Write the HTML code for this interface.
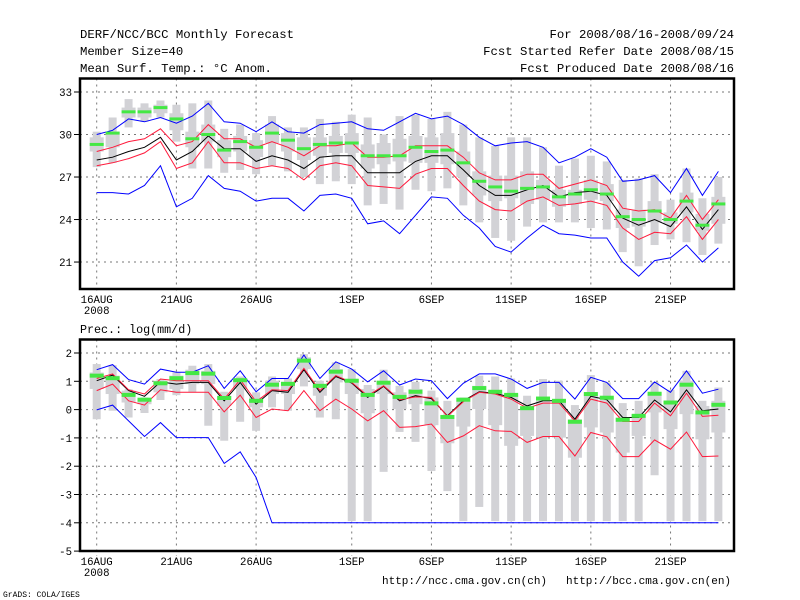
<!DOCTYPE html>
<html><head><meta charset="utf-8">
<style>
html,body{margin:0;padding:0;background:#fff;}
svg{display:block;}
text{font-family:"Liberation Mono",monospace;fill:#000;}
</style></head>
<body>
<svg id="chart" width="800" height="600" viewBox="0 0 800 600" xmlns="http://www.w3.org/2000/svg">
<rect width="800" height="600" fill="#fff"/>
<text x="80" y="38" font-size="12.3">DERF/NCC/BCC Monthly Forecast</text>
<text x="80" y="55" font-size="12.3">Member Size=40</text>
<text x="80" y="72" font-size="12.3">Mean Surf. Temp.: °C Anom.</text>
<text x="734" y="38" font-size="12.3" text-anchor="end">For 2008/08/16-2008/09/24</text>
<text x="734" y="55" font-size="12.3" text-anchor="end">Fcst Started Refer Date 2008/08/15</text>
<text x="734" y="72" font-size="12.3" text-anchor="end">Fcst Produced Date 2008/08/16</text>
<text x="80" y="333" font-size="11.7">Prec.: log(mm/d)</text>
<text x="382" y="584" font-size="11">http://ncc.cma.gov.cn(ch)</text>
<text x="566" y="584" font-size="11">http://bcc.cma.gov.cn(en)</text>
<text x="3" y="597" font-size="8">GrADS: COLA/IGES</text>
<g id="g"></g>
</svg>
<script>
// Temperature panel data (40 days, Aug16..Sep24)
const tBlueHi=[30.0,30.3,31.1,30.9,31.2,30.8,31.3,32.2,30.9,30.8,30.2,30.9,30.2,30.1,30.7,30.8,30.9,30.4,30.3,30.9,31.5,31.1,31.3,30.7,29.8,29.2,29.4,29.5,29.1,28.0,28.4,29.0,28.4,26.7,26.8,27.1,25.9,27.6,25.7,27.4];
const tRedHi=[28.8,29.1,29.5,29.7,30.4,29.2,29.5,30.7,29.7,29.7,29.1,29.5,29.1,28.5,29.2,29.2,29.4,28.4,28.4,28.5,29.2,29.2,29.2,28.4,27.3,26.8,26.8,27.2,27.2,26.2,26.5,26.8,26.4,24.8,24.6,24.7,24.1,25.7,24.0,25.4];
const tMean=[28.2,28.4,28.8,29.1,29.8,28.2,28.8,29.9,29.0,29.0,28.1,28.5,28.2,27.6,28.4,28.5,28.5,27.3,27.3,27.3,28.1,28.5,28.5,27.5,26.4,25.7,25.7,26.1,26.4,25.6,25.9,26.0,25.7,24.1,23.6,24.0,23.5,24.9,23.3,24.7];
const tRedLo=[27.8,28.0,28.3,28.7,29.5,27.6,28.0,29.5,28.0,28.0,27.6,27.8,27.6,26.8,27.8,28.0,27.8,26.4,26.3,26.2,27.2,27.6,27.6,26.4,25.3,24.7,24.6,25.3,25.6,25.0,25.1,25.3,25.0,23.4,22.6,23.1,23.0,24.2,22.6,24.0];
const tBlueLo=[25.9,25.9,25.8,26.4,27.8,24.9,25.5,27.1,26.2,26.0,25.3,25.5,25.5,24.6,25.7,25.8,25.5,23.7,23.9,23.0,24.3,25.6,25.5,24.3,23.4,22.1,21.7,22.7,23.6,23.0,22.9,22.7,22.7,21.0,20.0,21.1,21.3,22.2,21.0,22.0];
const tGreen=[29.3,30.1,31.6,31.6,31.9,31.1,29.7,30.0,28.9,29.5,29.1,30.1,29.6,29.0,29.3,29.4,29.4,28.5,28.5,28.5,29.1,28.8,28.9,28.0,26.7,26.3,26.0,26.2,26.3,25.6,25.8,26.1,25.8,24.2,24.0,24.6,24.0,25.3,23.6,25.1];
const tMax=[30.2,31.2,32.5,32.2,32.4,32.1,32.2,32.4,30.4,30.7,30.1,31.3,30.5,30.5,31.1,30.9,31.4,31.2,30.0,31.3,31.4,31.1,31.6,30.7,29.8,29.2,29.8,29.8,29.1,27.8,28.3,28.5,28.1,26.8,26.9,27.2,25.4,27.6,25.5,27.0];
const tMin=[27.7,28.0,30.5,30.9,31.2,29.5,27.6,27.6,27.3,27.5,27.2,27.8,27.4,27.0,26.5,26.7,26.5,25.0,25.1,24.7,26.1,26.0,26.2,25.0,23.8,22.7,22.5,23.5,23.8,23.8,23.8,23.4,23.3,21.7,20.7,22.2,22.6,22.4,21.5,22.3];
const tQ3=[29.8,30.2,31.9,31.9,32.1,31.5,30.2,30.7,29.6,29.9,29.6,30.7,30.1,29.8,29.8,29.9,30.1,29.3,29.4,29.7,29.9,29.8,30.1,28.8,27.4,27.1,27.1,27.4,26.8,26.1,26.1,26.8,26.5,24.7,24.7,25.3,24.5,25.9,24.4,25.6];
const tQ1=[28.8,29.1,31.2,31.2,31.5,30.3,29.1,29.5,28.4,28.8,28.4,29.4,28.8,28.2,28.5,28.7,28.7,27.6,27.9,28.1,28.0,28.0,27.9,27.0,25.7,25.3,25.5,25.1,25.4,24.9,25.1,25.4,25.3,23.4,23.5,23.8,23.7,24.5,23.2,23.7];
// Precipitation panel data
const pBlueHi=[1.41,1.59,1.06,0.90,1.43,1.32,1.32,1.55,0.75,1.37,0.63,1.10,1.10,1.93,1.10,1.69,1.43,0.98,1.37,0.87,1.08,1.02,0.39,0.93,1.26,1.26,1.08,0.75,0.96,0.96,0.37,1.14,0.96,0.39,0.39,0.98,0.61,1.37,0.58,0.72];
const pRedHi=[1.10,1.26,0.70,0.55,1.08,1.02,1.02,1.02,0.37,1.06,0.28,0.70,0.67,1.46,0.67,1.20,0.96,0.49,0.84,0.35,0.45,0.43,-0.24,0.28,0.61,0.55,0.37,0.05,0.23,0.23,-0.40,0.37,0.23,-0.42,-0.42,0.23,-0.22,0.58,-0.24,-0.20];
const pMean=[1.02,1.22,0.67,0.47,0.98,0.90,0.96,0.96,0.31,0.96,0.19,0.67,0.61,1.41,0.61,1.17,0.94,0.43,0.82,0.31,0.49,0.39,-0.22,0.31,0.63,0.58,0.43,0.13,0.31,0.31,-0.34,0.47,0.35,-0.28,-0.28,0.34,-0.08,0.70,-0.04,0.02];
const pRedLo=[0.67,0.90,0.31,0.16,0.70,0.61,0.61,0.61,-0.08,0.51,-0.28,0.02,-0.04,0.67,-0.04,0.37,0.02,-0.40,-0.04,-0.63,-0.60,-0.51,-1.16,-0.93,-0.57,-0.75,-0.77,-1.16,-0.95,-0.95,-1.64,-0.81,-0.96,-1.66,-1.66,-1.07,-1.40,-0.79,-1.66,-1.64];
const pBlueLo=[-0.01,0.16,-0.40,-0.95,-0.46,-0.99,-0.99,-0.99,-1.9,-1.49,-2.4,-4,-4,-4,-4,-4,-4,-4,-4,-4,-4,-4,-4,-4,-4,-4,-4,-4,-4,-4,-4,-4,-4,-4,-4,-4,-4,-4,-4,-4];
const pGreen=[1.20,1.11,0.52,0.35,0.93,1.11,1.29,1.27,0.41,1.04,0.31,0.88,0.91,1.73,0.84,1.34,1.02,0.52,0.95,0.45,0.63,0.22,-0.26,0.35,0.76,0.63,0.52,0.05,0.39,0.31,-0.43,0.55,0.42,-0.36,-0.22,0.56,0.25,0.88,-0.10,0.17];
const pMax=[1.61,1.57,0.72,0.43,1.08,1.32,1.55,1.61,0.63,1.17,0.61,1.17,1.10,1.96,1.02,1.67,1.43,0.87,1.41,0.84,0.98,0.67,0.31,0.43,1.20,1.17,1.10,0.49,1.08,1.02,0.16,1.22,0.96,0.23,0.31,0.98,0.70,1.37,0.31,0.78];
const pMin=[-0.34,-0.04,-0.28,-0.12,0.34,0.51,0.61,-0.57,-1.10,-0.43,-0.75,0.08,-0.04,0.82,-0.28,-0.34,-3.94,-3.94,-2.2,-0.79,-1.14,-2.17,-2.88,-3.94,-3.44,-3.94,-3.94,-3.94,-3.94,-3.94,-3.94,-3.94,-3.94,-3.94,-3.94,-2.32,-3.94,-3.94,-3.94,-3.94];
const pQ3=[1.31,1.20,0.67,0.39,1.02,1.20,1.41,1.37,0.49,1.10,0.43,1.02,0.98,1.85,0.84,1.43,1.08,0.73,1.02,0.61,0.73,0.43,-0.20,0.31,0.84,0.61,0.55,0.08,0.31,0.31,-0.34,0.61,0.43,-0.28,-0.16,0.61,0.31,1.02,0.13,0.31];
const pQ1=[0.73,0.55,0.25,0.19,0.61,0.73,0.90,0.90,0.13,0.73,0.08,0.55,0.55,1.43,0.49,0.96,0.55,-0.13,0.55,0.02,0.19,-0.55,-1.19,-0.60,0.02,-0.55,-1.28,-0.93,-0.99,-0.99,-1.70,-0.63,-0.81,-1.52,-0.93,-0.10,-0.69,-0.16,-1.05,-0.81];
const xTickDays=[0,5,10,16,21,26,31,36];
const xTickLabels=["16AUG","21AUG","26AUG","1SEP","6SEP","11SEP","16SEP","21SEP"];
const tYTicks=[33,30,27,24,21];
const pYTicks=[2,1,0,-1,-2,-3,-4,-5];

const NS="http://www.w3.org/2000/svg";
const G=document.getElementById('g');
function mk(tag,attrs,parent){const e=document.createElementNS(NS,tag);for(const k in attrs)e.setAttribute(k,attrs[k]);(parent||G).appendChild(e);return e;}
const X0=80,X1=734;
function xs(d){return 96.7+15.94*d;}

function panel(cfg){
  const {top,bot,ys,yTicks,name,maxA,minA,q3A,q1A,green,gh,lines}=cfg;
  const grp=mk('g',{});
  
  
  // grid
  xTickDays.forEach((d,i)=>{
    const l=mk('line',{x1:xs(d),x2:xs(d),y1:top,y2:bot+5,stroke:'#777','stroke-width':1,'stroke-dasharray':'2,4'},grp);
    
    
    const t=mk('text',{x:xs(d),y:bot+14,'font-size':10.7,'text-anchor':'middle'},grp);
    t.textContent=xTickLabels[i];
    
    
  });
  const yr=mk('text',{x:xs(0),y:bot+25,'font-size':10.7,'text-anchor':'middle'},grp);
  yr.textContent='2008';
  
  
  yTicks.forEach(v=>{
    const y=ys(v);
    if(y>top+2&&y<bot-2){
      const l=mk('line',{x1:X0,x2:X1,y1:y,y2:y,stroke:'#777','stroke-width':1,'stroke-dasharray':'2,4'},grp);
      
      
    }
    mk('line',{x1:X0-6,x2:X0,y1:y,y2:y,stroke:'#000','stroke-width':1},grp);
    const t=mk('text',{x:X0-8,y:y+4,'font-size':10.7,'text-anchor':'end'},grp);
    t.textContent=String(v);
    
    
  });
  // boxes
  for(let d=0;d<maxA.length;d++){
    const x=xs(d);
    const r1=mk('rect',{x:x-4,y:ys(maxA[d]),width:8,height:Math.max(1,ys(minA[d])-ys(maxA[d])),fill:'#d2d2d6'},grp);
    
    
    const r2=mk('rect',{x:x-7,y:ys(q3A[d]),width:14,height:Math.max(1,ys(q1A[d])-ys(q3A[d])),fill:'#d2d2d6'},grp);
    
    
  }
  lines.forEach(([arr,col,lname])=>{
    const p=mk('polyline',{points:arr.map((v,d)=>xs(d).toFixed(1)+','+ys(v).toFixed(1)).join(' '),fill:'none',stroke:col,'stroke-width':1},grp);
    
    
  });
  for(let d=0;d<green.length;d++){
    const r=mk('rect',{x:xs(d)-7,y:ys(green[d])-gh/2,width:14,height:gh,fill:'#44e844'},grp);
    
    
  }
  const f=mk('rect',{x:X0,y:top,width:X1-X0,height:bot-top,fill:'none',stroke:'#000','stroke-width':2.5},grp);
  
  
}
panel({top:78.5,bot:289,name:'temp',ys:v=>92+(33-v)*14.17,yTicks:tYTicks,maxA:tMax,minA:tMin,q3A:tQ3,q1A:tQ1,green:tGreen,gh:3,
  lines:[[tBlueHi,'#0000ff','max-line'],[tBlueLo,'#0000ff','min-line'],[tRedHi,'#ff1a3c','upper-line'],[tRedLo,'#ff1a3c','lower-line'],[tMean,'#000','mean-line']]});
panel({top:339.5,bot:551,name:'precip',ys:v=>353+(2-v)*28.3,yTicks:pYTicks,maxA:pMax,minA:pMin,q3A:pQ3,q1A:pQ1,green:pGreen,gh:4,
  lines:[[pBlueHi,'#0000ff','max-line'],[pBlueLo,'#0000ff','min-line'],[pRedLo,'#ff1a3c','lower-line'],[pMean,'#000','mean-line'],[pRedHi,'#ff1a3c','upper-line']]});
</script>
</body></html>
